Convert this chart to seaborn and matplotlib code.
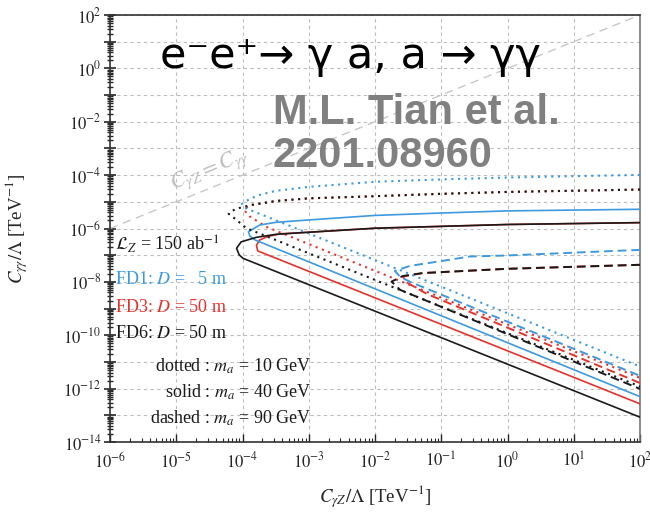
import numpy as np
import pandas as pd
import seaborn as sns
import matplotlib
matplotlib.use('Agg')
import matplotlib.pyplot as plt
from matplotlib.ticker import LogLocator, FuncFormatter, NullFormatter

# contour points, in log10 units
# (x = C_gZ/Lambda, y = C_gg/Lambda), upper branch -> nose -> lower branch
fd1_dot_x = [2, 0, -1, -2, -3, -3.5, -3.74, -3.89, -4.01, -3.96, 2]
fd1_dot_y = [-3.99, -4.09, -4.16, -4.25, -4.44, -4.59, -4.74, -4.89, -5.08, -5.23, -11.17]
fd1_sol_x = [2, 0, -1, -2, -3, -3.5, -3.74, -3.91, -3.89, -3.81, 2]
fd1_sol_y = [-5.28, -5.34, -5.42, -5.51, -5.68, -5.77, -5.87, -6.12, -6.28, -6.43, -12.30]
fd1_das_x = [2, 0, -0.57, -1, -1.47, -1.70, -1.62, -1.47, 2]
fd1_das_y = [-6.80, -7.01, -7.05, -7.22, -7.40, -7.59, -7.81, -8.00, -11.52]

fd3_dot_x = [2, 0, -1, -2, -3, -3.5, -3.89, -3.98, -3.89, -3.64, 2]
fd3_dot_y = [-4.54, -4.63, -4.70, -4.79, -4.87, -4.97, -5.13, -5.30, -5.55, -5.94, -11.60]
fd3_sol_x = [2, 0, -1, -2, -3, -3.43, -3.62, -3.74, -3.79, -3.77, 2]
fd3_sol_y = [-5.78, -5.85, -5.92, -5.99, -6.14, -6.20, -6.30, -6.43, -6.63, -6.84, -12.57]
fd3_das_x = [2, 0, -0.57, -1.28, -1.58, -1.52, -1.22, 2]
fd3_das_y = [-7.36, -7.51, -7.58, -7.67, -7.80, -8.02, -8.45, -11.79]

fd6_dot_x = [2, 0, -1, -2, -3, -3.5, -3.89, -4.11, -4.21, -4.11, -3.94, 2]
fd6_dot_y = [-4.54, -4.63, -4.70, -4.79, -4.87, -4.97, -5.13, -5.27, -5.45, -5.64, -5.99, -11.92]
fd6_sol_x = [2, 0, -1, -2, -3, -3.5, -3.79, -4.02, -4.09, -4.05, -3.99, 2]
fd6_sol_y = [-5.78, -5.85, -5.92, -5.99, -6.14, -6.22, -6.33, -6.50, -6.74, -6.99, -7.12, -13.07]
fd6_das_x = [2, 0, -0.57, -1.28, -1.58, -1.75, -1.62, 2]
fd6_das_y = [-7.36, -7.51, -7.58, -7.67, -7.78, -7.99, -8.30, -12.01]

diag_x = [1e-6, 1e2]
diag_y = [1e-6, 1e2]

legend_lines = [r'$\mathcal{L}_Z$ = 150 ab$^{-1}$', r'FD1: $D$ =   5 m',
                r'FD3: $D$ = 50 m', r'FD6: $D$ = 50 m']
mass_lines = [r'dotted : $m_a$ = 10 GeV', r'solid : $m_a$ = 40 GeV',
              r'dashed : $m_a$ = 90 GeV']

blue = '#3d9ae0'
red = '#e5322d'
black = '#1a1a1a'

curves = [
    ('FD3', '10', fd3_dot_x, fd3_dot_y), ('FD3', '40', fd3_sol_x, fd3_sol_y),
    ('FD3', '90', fd3_das_x, fd3_das_y),
    ('FD1', '10', fd1_dot_x, fd1_dot_y), ('FD1', '40', fd1_sol_x, fd1_sol_y),
    ('FD1', '90', fd1_das_x, fd1_das_y),
    ('FD6', '10', fd6_dot_x, fd6_dot_y), ('FD6', '40', fd6_sol_x, fd6_sol_y),
    ('FD6', '90', fd6_das_x, fd6_das_y),
]
rows = []
for det, m, xs, ys in curves:
    for i, (a, b) in enumerate(zip(xs, ys)):
        rows.append({'det': det, 'mass': m, 'i': i, 'x': 10.0 ** a, 'y': 10.0 ** b})
df = pd.DataFrame(rows)

colors = {'FD1': blue, 'FD3': red, 'FD6': black}
styles = {'10': (0, (1, 2.2)), '40': '-', '90': (0, (4.5, 2.5))}
widths = {'10': 1.5, '40': 1.2, '90': 1.4}

sns.set_theme(style='ticks')
plt.rcParams['font.family'] = ['Liberation Serif', 'DejaVu Sans']
plt.rcParams['mathtext.fontset'] = 'stix'

fig = plt.figure(figsize=(6.5, 5.15), dpi=100)
ax = fig.add_axes([110 / 650, 1 - 442 / 515, 530 / 650, 427 / 515])
ax.set_xscale('log')
ax.set_yscale('log')

sns.lineplot(x=diag_x, y=diag_y, ax=ax, color='#c8c8c8', linewidth=1.0,
             linestyle=(0, (6, 4)), zorder=1)

for det, m in [(c[0], c[1]) for c in curves]:
    sub = df[(df['det'] == det) & (df['mass'] == m)]
    sns.lineplot(data=sub, x='x', y='y', ax=ax, sort=False, estimator=None,
                 color=colors[det], linestyle=styles[m], linewidth=widths[m], zorder=3)

ax.set_xlim(1e-6, 1e2)
ax.set_ylim(1e-14, 1e2)

ax.xaxis.set_major_locator(LogLocator(base=10, numticks=20))
ax.yaxis.set_major_locator(LogLocator(base=10, numticks=30))
ax.xaxis.set_minor_locator(LogLocator(base=10, subs=np.arange(2, 10), numticks=200))
ax.yaxis.set_minor_locator(LogLocator(base=10, subs=np.arange(2, 10), numticks=300))
ax.xaxis.set_minor_formatter(NullFormatter())
ax.yaxis.set_minor_formatter(NullFormatter())
ax.xaxis.set_major_formatter(FuncFormatter(lambda v, p: r'$10^{%d}$' % round(np.log10(v))))
ax.yaxis.set_major_formatter(FuncFormatter(
    lambda v, p: r'$10^{%d}$' % round(np.log10(v)) if round(np.log10(v)) % 2 == 0 else ''))

ax.grid(True, which='major', color='#bdbdbd', linestyle=(0, (3, 3)), linewidth=0.8)
ax.tick_params(axis='x', which='major', direction='in', length=6, width=1.0, labelsize=12, pad=7)
ax.tick_params(axis='x', which='minor', direction='in', length=3, width=0.8)
ax.tick_params(axis='y', which='major', direction='inout', length=8, width=1.2, labelsize=12, pad=2)
ax.tick_params(axis='y', which='minor', direction='inout', length=5, width=1.0)
for s in ax.spines.values():
    s.set_linewidth(1.2)
    s.set_color('#333333')
ax.spines['right'].set_color('#777777')

ax.set_xlabel(r'$C_{\gamma Z}/\Lambda$ [TeV$^{-1}$]', fontsize=13.5, labelpad=8)
ax.set_ylabel(r'$C_{\gamma\gamma}/\Lambda$ [TeV$^{-1}$]', fontsize=13.5, labelpad=24)


def px(x, y):
    return x / 650, 1 - y / 515


fig.text(*px(210, 170), r'$C_{\gamma Z} = C_{\gamma\gamma}$', color='#bdbdbd', fontsize=16,
         rotation=22, ha='center', va='center')

fig.text(*px(160, 56), 'e⁻e⁺→ γ a, a → γγ', family='DejaVu Sans', fontsize=31,
         color='black', ha='left', va='center')
fig.text(*px(273, 113), 'M.L. Tian et al.', family='Liberation Sans', fontweight='bold',
         fontsize=30, color='#808080', ha='left', va='center')
fig.text(*px(273, 156), '2201.08960', family='Liberation Sans', fontweight='bold',
         fontsize=30, color='#808080', ha='left', va='center')

for txt, yy, col in zip(legend_lines, [244, 280, 307, 334], [black, blue, red, black]):
    fig.text(*px(115, yy), txt, fontsize=13, color=col, ha='left', va='center')
for txt, yy in zip(mass_lines, [366, 392, 418]):
    fig.text(*px(312, yy), txt, fontsize=13, color=black, ha='right', va='center')

fig.savefig('out.png', dpi=100)
